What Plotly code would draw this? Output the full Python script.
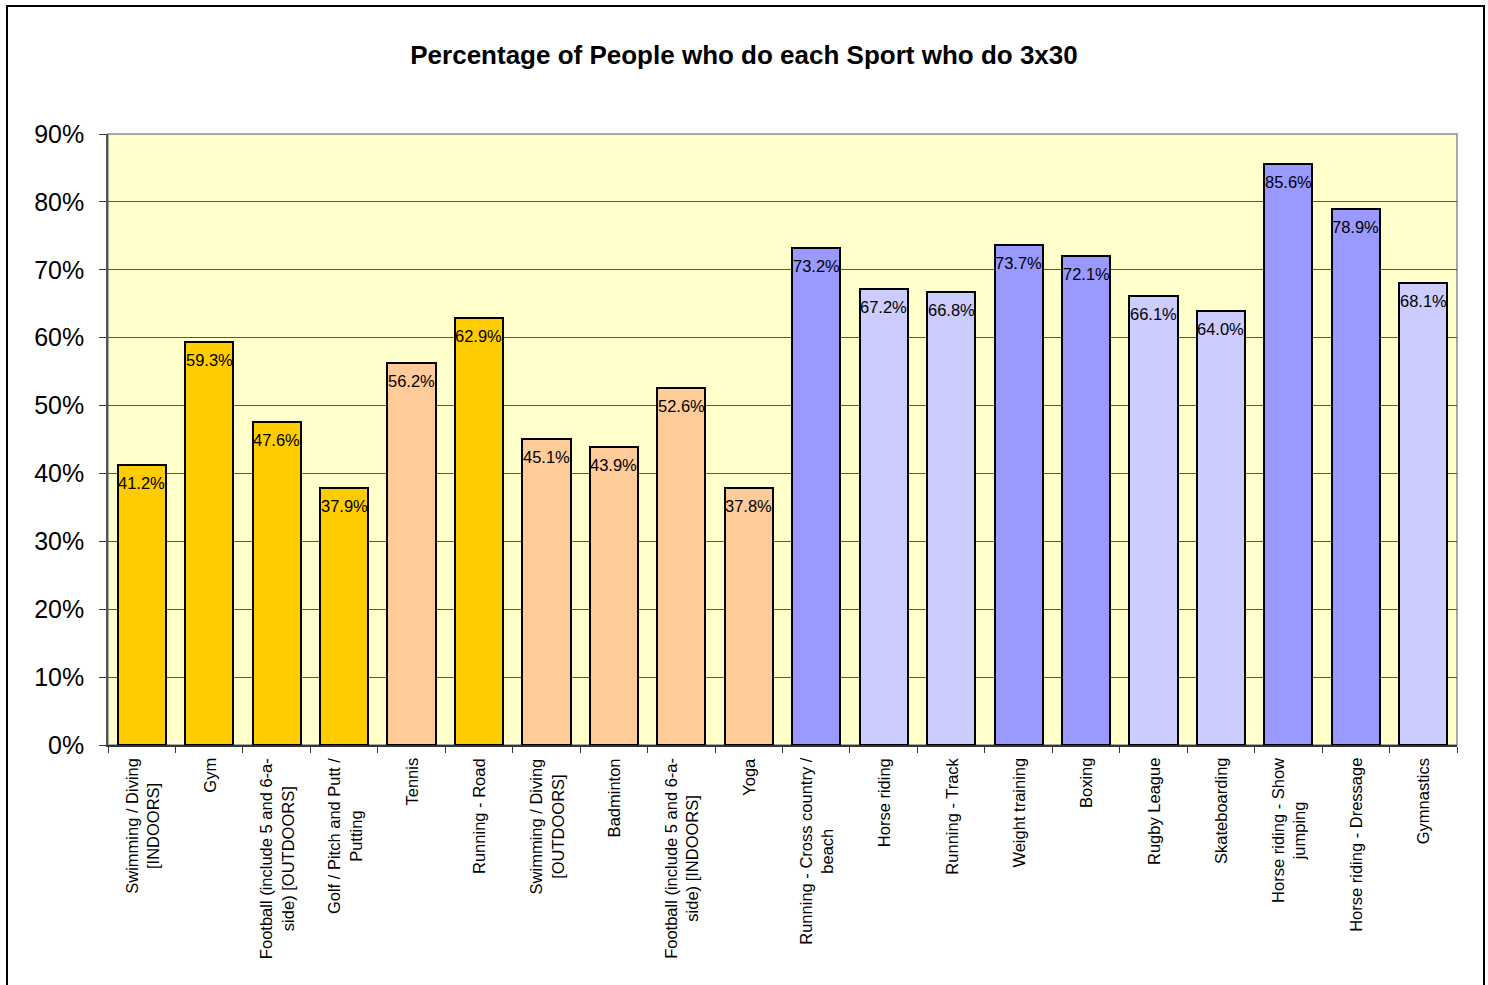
import plotly.graph_objects as go

# Sports (line breaks as shown on the axis) and the share who do 3x30
sports = [
    "Swimming / Diving<br>[INDOORS]",
    "Gym",
    "Football (include 5 and 6-a-<br>side) [OUTDOORS]",
    "Golf / Pitch and Putt /<br>Putting",
    "Tennis",
    "Running - Road",
    "Swimming / Diving<br>[OUTDOORS]",
    "Badminton",
    "Football (include 5 and 6-a-<br>side) [INDOORS]",
    "Yoga",
    "Running - Cross country /<br>beach",
    "Horse riding",
    "Running - Track",
    "Weight training",
    "Boxing",
    "Rugby League",
    "Skateboarding",
    "Horse riding - Show<br>jumping",
    "Horse riding - Dressage",
    "Gymnastics",
]
pct_3x30 = [41.2, 59.3, 47.6, 37.9, 56.2, 62.9, 45.1, 43.9, 52.6, 37.8,
            73.2, 67.2, 66.8, 73.7, 72.1, 66.1, 64.0, 85.6, 78.9, 68.1]

y_ticks = [0, 10, 20, 30, 40, 50, 60, 70, 80, 90]

GOLD, PEACH, BLUE, LAVENDER = "#FFCC00", "#FFCC99", "#9999FF", "#CCCCFF"
bar_colors = [GOLD, GOLD, GOLD, GOLD, PEACH, GOLD, PEACH, PEACH, PEACH, PEACH,
              BLUE, LAVENDER, LAVENDER, BLUE, BLUE, LAVENDER, LAVENDER, BLUE, BLUE, LAVENDER]

FONT = "Liberation Sans, Arial, sans-serif"
W, H = 1488, 985
ML, MR, MT, MB = 108, 31, 134, 240
PW, PH = W - ML - MR, H - MT - MB

fig = go.Figure()
fig.add_trace(go.Bar(
    x=list(range(len(sports))),
    y=pct_3x30,
    width=0.714,
    marker=dict(color=bar_colors, line=dict(color="#000000", width=2)),
    hoverinfo="skip",
))

# value labels just inside the top of each bar
for i, v in enumerate(pct_3x30):
    fig.add_annotation(
        x=i, y=v, xref="x", yref="y",
        text=f"{v:.1f}%", showarrow=False,
        xanchor="center", yanchor="middle", yshift=-18,
        font=dict(family=FONT, size=16.5, color="#000000"),
    )

# category labels, rotated and centred line by line
for i, name in enumerate(sports):
    fig.add_annotation(
        x=i, y=0, xref="x", yref="paper",
        text=name, textangle=-90, align="center",
        xanchor="center", yanchor="top", yshift=-11,
        showarrow=False,
        font=dict(family=FONT, size=16.5, color="#000000"),
    )

def px_to_paper_x(px):
    return (px - ML) / PW

def px_to_paper_y(py):
    return (H - MB - py) / PH

shapes = [
    # plot area border
    dict(type="rect", xref="paper", yref="paper", x0=0, x1=1, y0=0, y1=1,
         line=dict(color="#8C8C8C", width=1.5), layer="below"),
    # chart frame
    dict(type="rect", xref="paper", yref="paper",
         x0=px_to_paper_x(7), x1=px_to_paper_x(1484),
         y0=px_to_paper_y(995), y1=px_to_paper_y(6),
         line=dict(color="#000000", width=2)),
]

fig.update_layout(
    width=W, height=H,
    margin=dict(l=ML, r=MR, t=MT, b=MB),
    paper_bgcolor="#FFFFFF",
    plot_bgcolor="#FFFFCC",
    showlegend=False,
    bargap=0,
    shapes=shapes,
    title=dict(
        text="<b>Percentage of People who do each Sport who do 3x30</b>",
        x=0.5, xanchor="center", xref="container",
        y=1 - 55 / H, yanchor="middle", yref="container",
        font=dict(family=FONT, size=26, color="#000000"),
    ),
    xaxis=dict(
        type="linear",
        range=[-0.5, len(sports) - 0.5],
        tickmode="array",
        tickvals=[i - 0.5 for i in range(len(sports) + 1)],
        ticktext=[""] * (len(sports) + 1),
        ticks="outside", ticklen=6, tickcolor="#333333", tickwidth=1,
        showgrid=False, zeroline=False,
        showline=True, linecolor="#333333", linewidth=1.5,
    ),
    yaxis=dict(
        range=[0, 90],
        tickmode="array",
        tickvals=y_ticks,
        ticktext=[f"{t}%" for t in y_ticks],
        ticks="outside", ticklen=7, tickcolor="#333333", tickwidth=1,
        ticklabelstandoff=10,
        tickfont=dict(family=FONT, size=25, color="#000000"),
        showgrid=True, gridcolor="#555555", gridwidth=1,
        zeroline=False,
        showline=True, linecolor="#555555", linewidth=1.5,
    ),
)

fig.write_html("out.html")
